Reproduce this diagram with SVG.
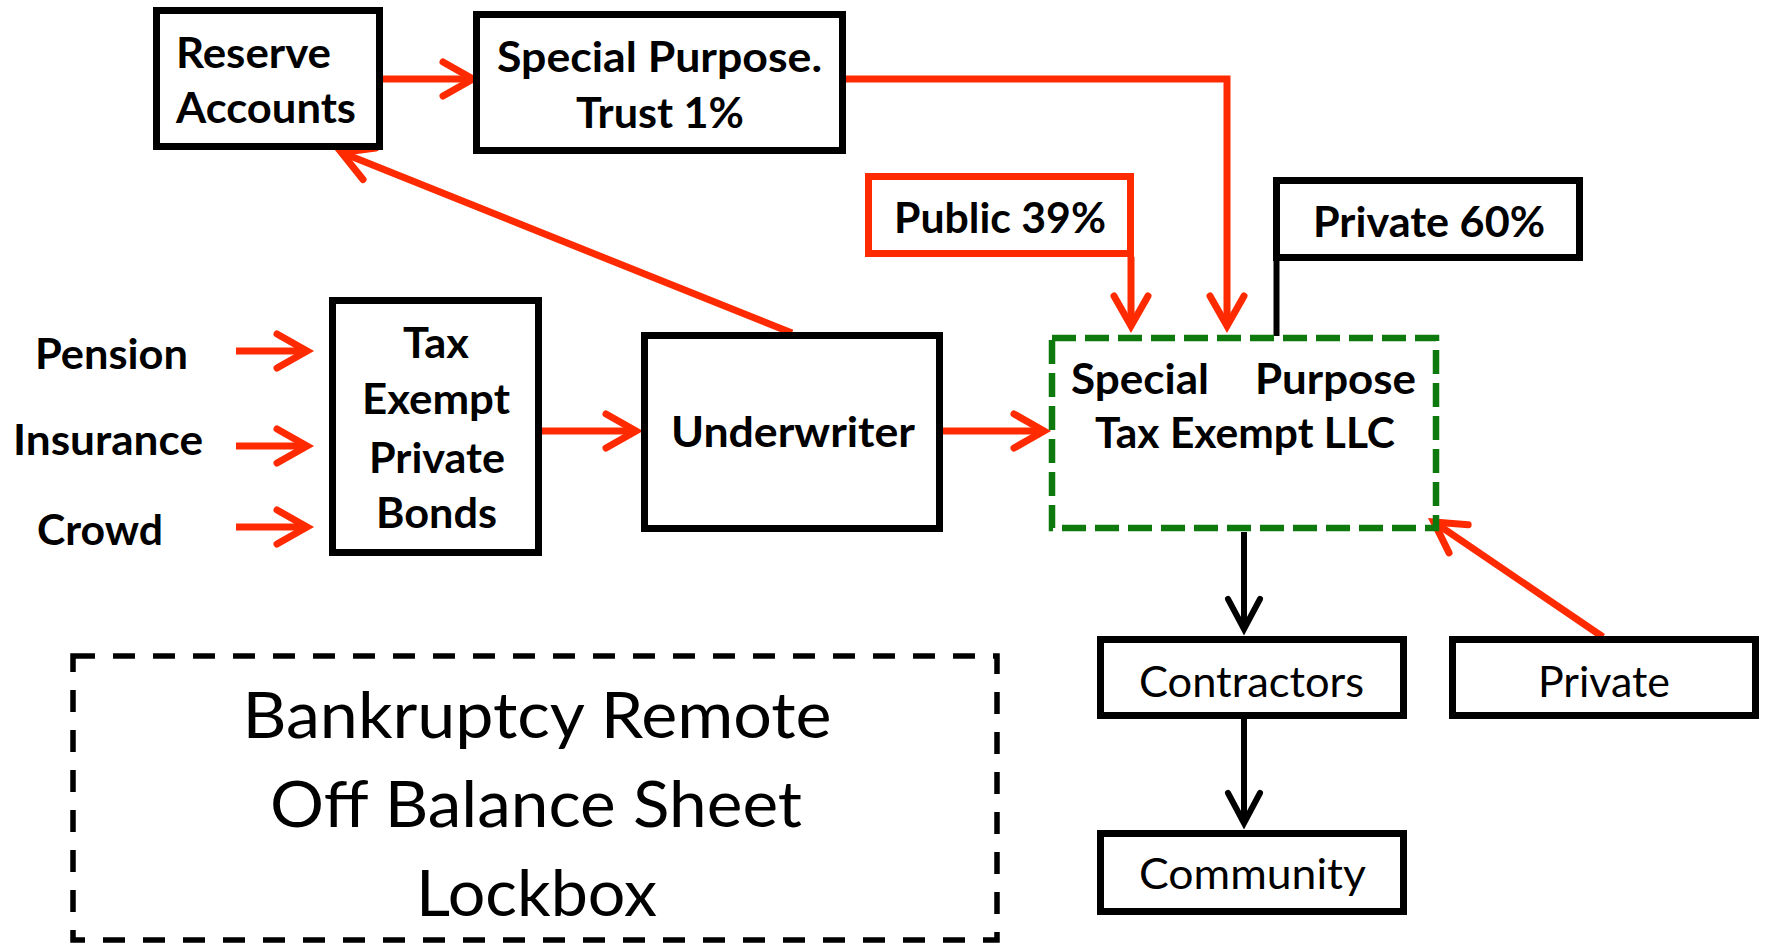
<svg xmlns="http://www.w3.org/2000/svg" width="1767" height="946" viewBox="0 0 1767 946">
<style>
.box{fill:#fff;stroke:#000;stroke-width:7}
.rbox{fill:#fff;stroke:#FF2A00;stroke-width:7}
.llc{fill:none;stroke:#0E7A0E;stroke-width:6.5;stroke-dasharray:24 9}
.lock{fill:none;stroke:#000;stroke-width:5.5;stroke-dasharray:22 18}
.b{font-family:Lato,"Liberation Sans",sans-serif;font-weight:bold;font-size:42px;fill:#000}
.r{font-family:Lato,"Liberation Sans",sans-serif;font-weight:normal;font-size:42px;fill:#000}
.big{font-family:Lato,"Liberation Sans",sans-serif;font-weight:normal;font-size:63px;fill:#000}
.red{fill:none;stroke:#FF2A00;stroke-width:7}
.blk{fill:none;stroke:#000;stroke-width:6}
.m{text-anchor:middle}
</style>
<defs>
<marker id="ar" markerUnits="userSpaceOnUse" viewBox="0 0 50 40" markerWidth="50" markerHeight="40" refX="30" refY="20" orient="auto" overflow="visible">
<path d="M0,3 L30,20 L0,37" fill="none" stroke="#FF2A00" stroke-width="7" stroke-linecap="round" stroke-linejoin="miter"/>
</marker>
<marker id="ab" markerUnits="userSpaceOnUse" viewBox="0 0 50 40" markerWidth="50" markerHeight="40" refX="30" refY="20" orient="auto" overflow="visible">
<path d="M0,4 L30,20 L0,36" fill="none" stroke="#000" stroke-width="6" stroke-linecap="round" stroke-linejoin="miter"/>
</marker>
</defs>

<g id="connectors">
<line class="red" x1="383" y1="79" x2="473" y2="79" marker-end="url(#ar)"/>
<polyline class="red" points="846,79 1227,79 1227,326" marker-end="url(#ar)"/>
<line class="red" x1="1131" y1="257" x2="1131" y2="326" marker-end="url(#ar)"/>
<line class="blk" x1="1276.5" y1="258" x2="1276.5" y2="336" stroke-width="7"/>
<line class="red" x1="236" y1="351" x2="307" y2="351" marker-end="url(#ar)"/>
<line class="red" x1="236" y1="446" x2="307" y2="446" marker-end="url(#ar)"/>
<line class="red" x1="236" y1="527" x2="307" y2="527" marker-end="url(#ar)"/>
<line class="red" x1="533" y1="431" x2="636" y2="431" marker-end="url(#ar)"/>
<line class="red" x1="943" y1="431" x2="1044" y2="431" marker-end="url(#ar)"/>
<line class="red" x1="792" y1="333" x2="341.5" y2="152.6" marker-end="url(#ar)"/>
<line class="red" x1="1603" y1="637" x2="1433.8" y2="521.9" marker-end="url(#ar)"/>
<line class="blk" x1="1244" y1="532" x2="1244" y2="629" marker-end="url(#ab)"/>
<line class="blk" x1="1244" y1="719" x2="1244" y2="823" marker-end="url(#ab)"/>
</g>

<g id="reserve">
<rect class="box" x="156.5" y="10.5" width="223" height="136"/>
<text class="b" x="176" y="68" textLength="155" lengthAdjust="spacingAndGlyphs">Reserve</text>
<text class="b" x="176" y="123" textLength="180" lengthAdjust="spacingAndGlyphs">Accounts</text>
</g>

<g id="spt">
<rect class="box" x="476.5" y="14.5" width="366" height="136"/>
<text class="b m" x="659.5" y="72" textLength="325" lengthAdjust="spacingAndGlyphs">Special Purpose.</text>
<text class="b m" x="660" y="128" textLength="168" lengthAdjust="spacingAndGlyphs">Trust 1%</text>
</g>

<g id="public">
<rect class="rbox" x="868.5" y="176.5" width="262" height="77"/>
<text class="b m" x="1000" y="233" textLength="212" lengthAdjust="spacingAndGlyphs">Public 39%</text>
</g>

<g id="private60">
<rect class="box" x="1276.5" y="180.5" width="303" height="77"/>
<text class="b m" x="1429" y="237" textLength="232" lengthAdjust="spacingAndGlyphs">Private 60%</text>
</g>

<g id="sources">
<text class="b" x="35" y="369" textLength="153" lengthAdjust="spacingAndGlyphs">Pension</text>
<text class="b" x="13" y="455" textLength="190" lengthAdjust="spacingAndGlyphs">Insurance</text>
<text class="b" x="37" y="545" textLength="126" lengthAdjust="spacingAndGlyphs">Crowd</text>
</g>

<g id="bonds">
<rect class="box" x="332.5" y="300.5" width="206" height="252"/>
<text class="b m" x="436" y="358" textLength="66" lengthAdjust="spacingAndGlyphs">Tax</text>
<text class="b m" x="436" y="414" textLength="148" lengthAdjust="spacingAndGlyphs">Exempt</text>
<text class="b m" x="437" y="473" textLength="136" lengthAdjust="spacingAndGlyphs">Private</text>
<text class="b m" x="436.5" y="528" textLength="121" lengthAdjust="spacingAndGlyphs">Bonds</text>
</g>

<g id="underwriter">
<rect class="box" x="644.5" y="335.5" width="295" height="193"/>
<text class="b m" x="793" y="447" textLength="244" lengthAdjust="spacingAndGlyphs">Underwriter</text>
</g>

<g id="llc">
<rect class="llc" x="1052" y="338" width="384" height="190"/>
<text class="b" x="1071" y="394" textLength="138" lengthAdjust="spacingAndGlyphs">Special</text>
<text class="b" x="1255" y="394" textLength="161" lengthAdjust="spacingAndGlyphs">Purpose</text>
<text class="b m" x="1245" y="448" textLength="300" lengthAdjust="spacingAndGlyphs">Tax Exempt LLC</text>
</g>

<g id="contractors">
<rect class="box" x="1100.5" y="639.5" width="303" height="76"/>
<text class="r m" x="1251.5" y="697" textLength="225" lengthAdjust="spacingAndGlyphs">Contractors</text>
</g>

<g id="private">
<rect class="box" x="1452.5" y="639.5" width="303" height="76"/>
<text class="r m" x="1604" y="697" textLength="132" lengthAdjust="spacingAndGlyphs">Private</text>
</g>

<g id="community">
<rect class="box" x="1100.5" y="833.5" width="303" height="78"/>
<text class="r m" x="1252.5" y="889" textLength="227" lengthAdjust="spacingAndGlyphs">Community</text>
</g>

<g id="lockbox">
<rect class="lock" x="73" y="656" width="924" height="284"/>
<text class="big m" x="537" y="738" textLength="589" lengthAdjust="spacingAndGlyphs">Bankruptcy Remote</text>
<text class="big m" x="536" y="827" textLength="532" lengthAdjust="spacingAndGlyphs">Off Balance Sheet</text>
<text class="big m" x="536.5" y="916" textLength="241" lengthAdjust="spacingAndGlyphs">Lockbox</text>
</g>
</svg>
